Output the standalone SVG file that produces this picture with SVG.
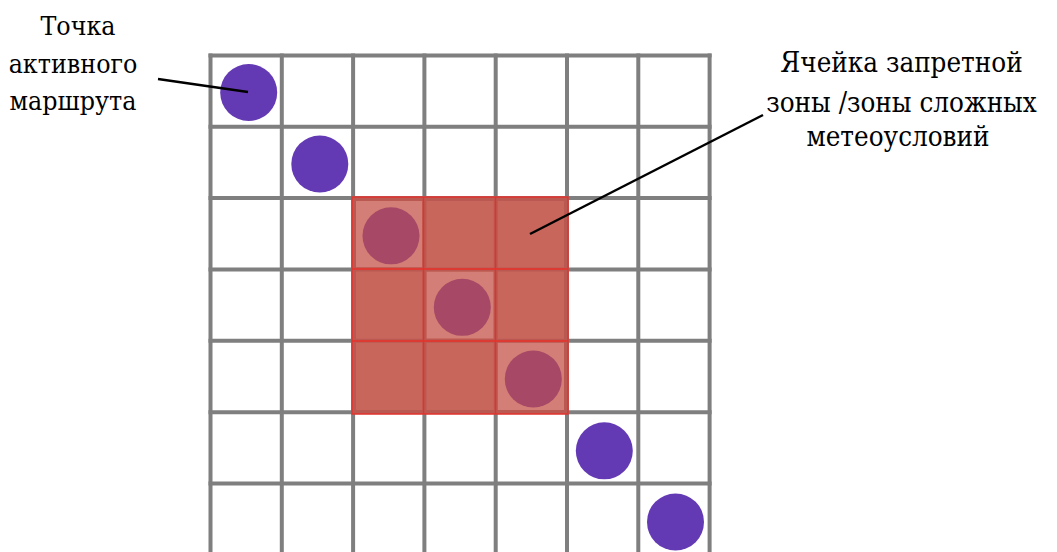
<svg xmlns="http://www.w3.org/2000/svg" width="1057" height="552" viewBox="0 0 1057 552">
<style>
.lbl{fill:#000;text-anchor:middle}
.g{stroke:#7f7f7f;stroke-width:4;fill:none}
.pt{fill:#643ab4}
.ptz{fill:#a64866}
.band{stroke:#ba5951;stroke-width:4;fill:none}
.rl{stroke:#e8302a;stroke-width:1.4;fill:none}
.lead{stroke:#000;stroke-width:2.5;fill:none}
</style>
<rect x="0" y="0" width="1057" height="552" fill="#fff"/>
<g id="grid">
<path class="g" d="M210.5 53.5V552M281.8 53.5V552M353.1 53.5V552M424.4 53.5V552M495.7 53.5V552M567 53.5V552M638.3 53.5V552M709.6 53.5V552"/>
<path class="g" d="M208.5 55.5H711.6M208.5 126.8H711.6M208.5 198.1H711.6M208.5 269.4H711.6M208.5 340.7H711.6M208.5 412.3H711.6M208.5 483.6H711.6"/>
</g>
<g id="zone">
<rect x="352" y="197" width="216" height="217" fill="#c8665c"/>
<rect x="355" y="200" width="67" height="67" fill="#d37e76"/>
<rect x="426.5" y="271.5" width="67" height="67" fill="#d37e76"/>
<rect x="497.5" y="342.5" width="67" height="68" fill="#d37e76"/>
<rect class="band" x="354" y="199" width="212" height="213"/>
<path class="band" d="M424.4 199V412M495.7 199V412M354 269.4H566M354 340.7H566"/>
<rect class="rl" x="352" y="197" width="216" height="217"/>
<path class="rl" d="M423.5 197V414M495.5 197V414M352 269H568M352 341H568"/>
</g>
<g id="points">
<circle class="pt" cx="248.7" cy="92.5" r="28.5"/>
<circle class="pt" cx="319.8" cy="164" r="28.5"/>
<circle class="ptz" cx="391" cy="235.8" r="28.5"/>
<circle class="ptz" cx="462.3" cy="307.3" r="28.5"/>
<circle class="ptz" cx="533.3" cy="379" r="28.5"/>
<circle class="pt" cx="604.3" cy="450.8" r="28.5"/>
<circle class="pt" cx="675.5" cy="522" r="28.5"/>
</g>
<g id="connectors">
<line class="lead" x1="158" y1="79" x2="248" y2="92"/>
<line class="lead" x1="763" y1="115" x2="530" y2="234"/>
</g>
<g id="label-route" font-family="DejaVu Serif Condensed, DejaVu Serif, serif" font-size="26.5">
<text class="lbl" x="78" y="35">Точка</text>
<text class="lbl" x="73" y="73">активного</text>
<text class="lbl" x="73" y="110">маршрута</text>
</g>
<g id="label-zone" font-family="DejaVu Serif Condensed, DejaVu Serif, serif" font-size="27.5">
<text class="lbl" x="901.5" y="72">Ячейка запретной</text>
<text class="lbl" x="901.5" y="111.5">зоны /зоны сложных</text>
<text class="lbl" x="898" y="146">метеоусловий</text>
</g>
</svg>
